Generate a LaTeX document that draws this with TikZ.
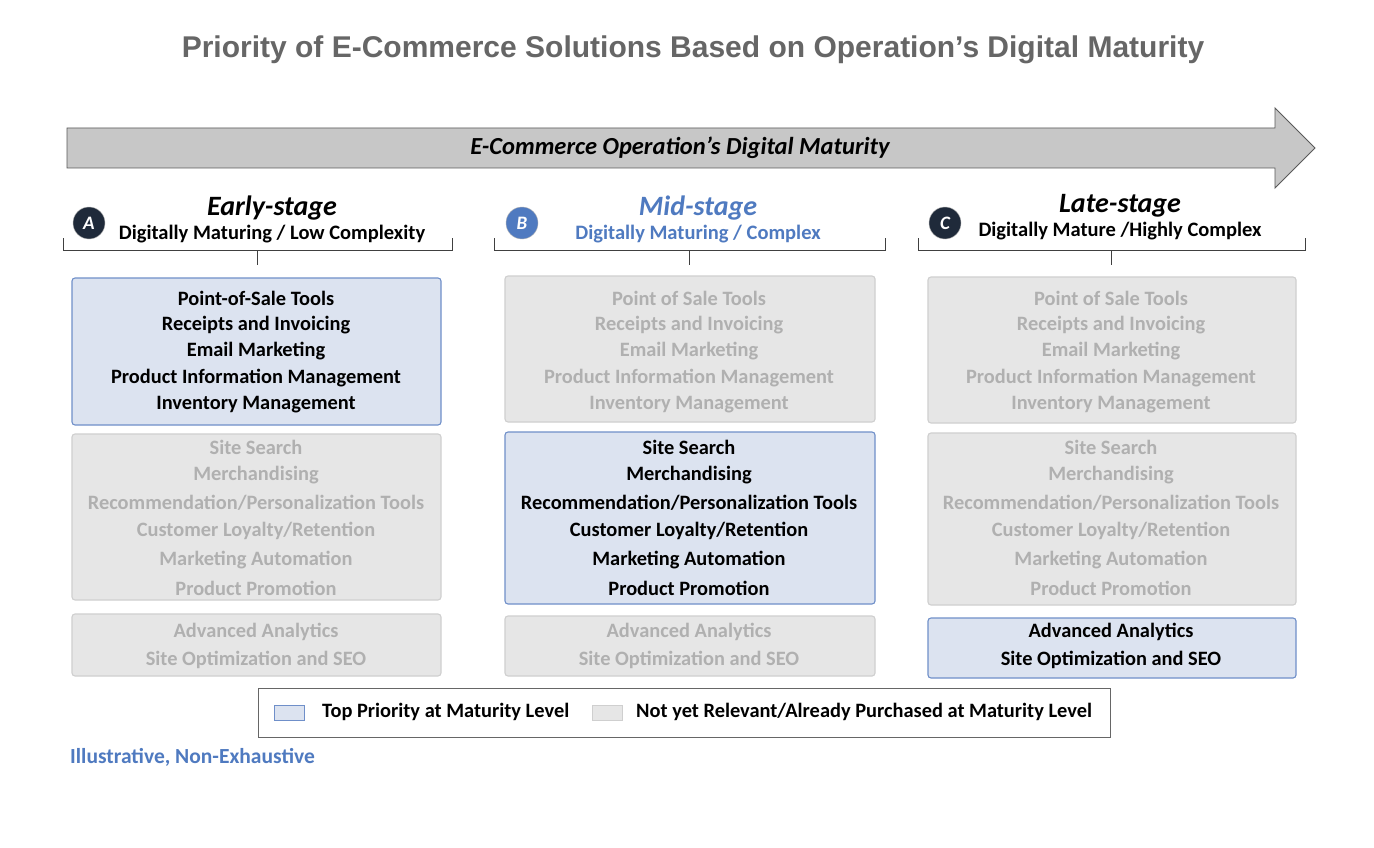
\documentclass[tikz,border=0pt]{standalone}
\usepackage{fontspec}
\setmainfont{Carlito}
\newfontfamily\titlefont{Liberation Sans}
\begin{document}
\begin{tikzpicture}[x=1pt,y=-1pt,
  bluebox/.style={draw=bbord,fill=bfill,rounded corners=3,line width=1.1},
  graybox/.style={draw=gbord,fill=gfill,rounded corners=3,line width=1.1},
  itm/.style={font=\fontsize{20.4}{20}\selectfont\bfseries,anchor=center},
  on/.style={itm,text=black},
  off/.style={itm,text=gtext},
  circ/.style={circle,minimum size=32,inner sep=0,text=white,font=\fontsize{19}{19}\selectfont\bfseries\itshape},
  brk/.style={draw=black!75,line width=0.9}]
\definecolor{bfill}{HTML}{DCE3F0}
\definecolor{bbord}{HTML}{6F8FC9}
\definecolor{gfill}{HTML}{E6E6E6}
\definecolor{gbord}{HTML}{CFCFCF}
\definecolor{gtext}{HTML}{B0B0B0}
\definecolor{midblue}{HTML}{4F7AC0}
\definecolor{navy}{HTML}{1F2A3A}
\definecolor{titlegray}{HTML}{666666}
\useasboundingbox (0,0) rectangle (1374,848);
\fill[white] (0,0) rectangle (1374,848);
\node[font=\titlefont\fontsize{30}{30}\selectfont\bfseries,text=titlegray] (title) at (693,50) {Priority of E-Commerce Solutions Based on Operation’s Digital Maturity};
\draw[fill=black!22,draw=black!65,line width=0.9] (67,128) -- (1275,128) -- (1275,108) -- (1315,148) -- (1275,188) -- (1275,168) -- (67,168) -- cycle;
\node[font=\fontsize{24.5}{24}\selectfont\bfseries\itshape] (arrowlab) at (680,148) {E-Commerce Operation’s Digital Maturity};
% column headers
\foreach \l/\cx/\x/\y/\col in {A/89/63/452/navy, B/522/494/885/midblue, C/945/918/1305/navy}{
  \node[circ,fill=\col,draw=black!30] (c\l) at (\cx,223) {\l};
  \draw[brk] (\x,238) -- (\x,250) -- (\y,250) -- (\y,238);
  \draw[brk] ({(\x+\y)/2},250) -- ({(\x+\y)/2},265);
}
\node[font=\fontsize{28}{28}\selectfont\bfseries\itshape] (hA) at (272,208) {Early-stage};
\node[font=\fontsize{20.5}{20}\selectfont\bfseries] (sA) at (272,234) {Digitally Maturing / Low Complexity};
\node[font=\fontsize{28}{28}\selectfont\bfseries\itshape,text=midblue] (hB) at (698,208) {Mid-stage};
\node[font=\fontsize{20.5}{20}\selectfont\bfseries,text=midblue] (sB) at (698,234) {Digitally Maturing / Complex};
\node[font=\fontsize{28}{28}\selectfont\bfseries\itshape] (hC) at (1120,206) {Late-stage};
\node[font=\fontsize{20.5}{20}\selectfont\bfseries] (sC) at (1120,231) {Digitally Mature /Highly Complex};
% boxes
\draw[bluebox] (72,278) rectangle (441,425);
\draw[graybox] (72,434) rectangle (441,600);
\draw[graybox] (72,614) rectangle (441,676);
\draw[graybox] (505,276) rectangle (875,422);
\draw[bluebox] (505,432) rectangle (875,604);
\draw[graybox] (505,616) rectangle (875,676);
\draw[graybox] (928,277) rectangle (1296,423);
\draw[graybox] (928,433) rectangle (1296,605);
\draw[bluebox] (928,618) rectangle (1296,678);
% texts
\foreach \cx/\s/\f in {256/on/Point-of-Sale Tools, 689/off/Point of Sale Tools, 1111/off/Point of Sale Tools}
  \node[\s] at (\cx,298) {\f};
\foreach \cx/\s in {256/on,689/off,1111/off}{
  \node[\s] at (\cx,325) {Receipts and Invoicing};
  \node[\s] at (\cx,351) {Email Marketing};
  \node[\s] at (\cx,378) {Product Information Management};
  \node[\s] at (\cx,405) {Inventory Management};
}
\foreach \cx/\s in {256/off,689/on,1111/off}{
  \node[\s] at (\cx,447) {Site Search};
  \node[\s] at (\cx,475) {Merchandising};
  \node[\s] at (\cx,503) {Recommendation/Personalization Tools};
  \node[\s] at (\cx,531) {Customer Loyalty/Retention};
  \node[\s] at (\cx,560) {Marketing Automation};
  \node[\s] at (\cx,588) {Product Promotion};
}
\foreach \cx/\s in {256/off,689/off,1111/on}{
  \node[\s] at (\cx,632) {Advanced Analytics};
  \node[\s] at (\cx,660) {Site Optimization and SEO};
}
% legend
\draw[black!60,line width=0.9] (258,688) rectangle (1110,737);
\draw[bbord,fill=bfill,line width=1] (274,705) rectangle (304,720);
\node[itm,anchor=west,inner sep=0] (l1) at (322,712) {Top Priority at Maturity Level};
\draw[gbord,fill=gfill,line width=1] (592,705) rectangle (622,720);
\node[itm,anchor=west,inner sep=0] (l2) at (636,712) {Not yet Relevant/Already Purchased at Maturity Level};
\node[itm,anchor=west,inner sep=0,text=midblue,font=\fontsize{21.5}{21}\selectfont\bfseries] (note) at (70,757) {Illustrative, Non-Exhaustive};
\end{tikzpicture}
\end{document}
